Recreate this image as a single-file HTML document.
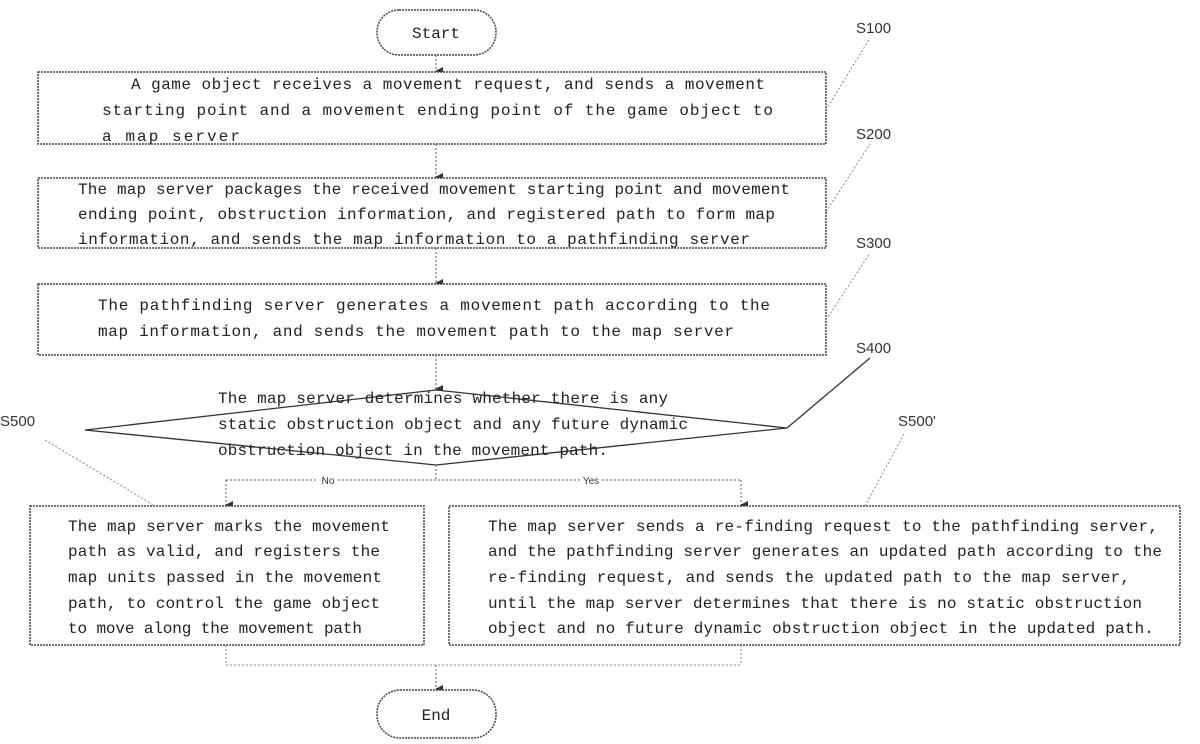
<!DOCTYPE html>
<html><head><meta charset="utf-8"><style>
html,body{margin:0;padding:0;background:#fff;}
svg{display:block;}
text{font-family:"Liberation Mono","DejaVu Sans Mono",monospace;font-size:16px;fill:#222;}
.l{font-family:"Liberation Sans",sans-serif;font-size:15px;fill:#333;}
.b{fill:#fff;stroke:#444;stroke-width:1.5;stroke-dasharray:2 1;}
.c{fill:none;stroke:#777;stroke-width:1.2;stroke-dasharray:2 2;}
.ld{fill:none;stroke:#888;stroke-width:1;stroke-dasharray:2 2;}
</style></head><body>
<svg width="1200" height="744" viewBox="0 0 1200 744" xmlns="http://www.w3.org/2000/svg">
<defs><marker id="a" markerWidth="8" markerHeight="8" refX="4" refY="7" orient="auto" markerUnits="userSpaceOnUse"><path d="M0,0 L8,0 L4,8 z" fill="#333"/></marker></defs>
<rect x="377" y="10" width="119" height="45" rx="22" class="b"/>
<text x="436" y="38" text-anchor="middle">Start</text>
<line x1="436" y1="55" x2="436" y2="71" class="c" marker-end="url(#a)"/>
<rect x="38" y="72" width="788" height="72" class="b"/>
<text x="131" y="89" textLength="634">A game object receives a movement request, and sends a movement</text>
<text x="102" y="115" textLength="671">starting point and a movement ending point of the game object to</text>
<text x="102" y="141" textLength="138">a map server</text>
<line x1="436" y1="144" x2="436" y2="177" class="c" marker-end="url(#a)"/>
<rect x="38" y="178" width="788" height="70" class="b"/>
<text x="78" y="194" textLength="712">The map server packages the received movement starting point and movement</text>
<text x="78" y="219" textLength="697">ending point, obstruction information, and registered path to form map</text>
<text x="78" y="244" textLength="672">information, and sends the map information to a pathfinding server</text>
<line x1="436" y1="248" x2="436" y2="283" class="c" marker-end="url(#a)"/>
<rect x="38" y="284" width="788" height="71" class="b"/>
<text x="98" y="310" textLength="672">The pathfinding server generates a movement path according to the</text>
<text x="98" y="336" textLength="636">map information, and sends the movement path to the map server</text>
<line x1="436" y1="355" x2="436" y2="389" class="c" marker-end="url(#a)"/>
<polygon points="436,390 787,428 436,465 85,430" fill="#fff" stroke="#333" stroke-width="1.3"/>
<text x="218" y="403" textLength="450">The map server determines whether there is any</text>
<text x="218" y="429" textLength="470">static obstruction object and any future dynamic</text>
<text x="218" y="455" textLength="390">obstruction object in the movement path.</text>
<line x1="436" y1="465" x2="436" y2="480" class="c"/>
<line x1="226" y1="480" x2="741" y2="480" class="c"/>
<line x1="226" y1="480" x2="226" y2="505" class="c" marker-end="url(#a)"/>
<line x1="741" y1="480" x2="741" y2="505" class="c" marker-end="url(#a)"/>
<rect x="318" y="474" width="20" height="12" fill="#fff"/>
<text class="l" x="328" y="484" text-anchor="middle" style="font-size:10px">No</text>
<rect x="580" y="474" width="22" height="12" fill="#fff"/>
<text class="l" x="591" y="484" text-anchor="middle" style="font-size:10px">Yes</text>
<rect x="30" y="506" width="394" height="139" class="b"/>
<text x="68" y="531" textLength="322">The map server marks the movement</text>
<text x="68" y="556" textLength="312">path as valid, and registers the</text>
<text x="68" y="582" textLength="314">map units passed in the movement</text>
<text x="68" y="608" textLength="312">path, to control the game object</text>
<text x="68" y="633" textLength="294">to move along the movement path</text>
<rect x="449" y="506" width="731" height="139" class="b"/>
<text x="488" y="531" textLength="670">The map server sends a re-finding request to the pathfinding server,</text>
<text x="488" y="556" textLength="674">and the pathfinding server generates an updated path according to the</text>
<text x="488" y="582" textLength="642">re-finding request, and sends the updated path to the map server,</text>
<text x="488" y="608" textLength="654">until the map server determines that there is no static obstruction</text>
<text x="488" y="633" textLength="666">object and no future dynamic obstruction object in the updated path.</text>
<line x1="226" y1="645" x2="226" y2="665" class="ld"/>
<line x1="741" y1="645" x2="741" y2="665" class="ld"/>
<line x1="226" y1="665" x2="741" y2="665" class="ld"/>
<line x1="436" y1="665" x2="436" y2="689" class="c" marker-end="url(#a)"/>
<rect x="377" y="690" width="119" height="48" rx="23" class="b"/>
<text x="436" y="720" text-anchor="middle">End</text>
<text class="l" x="856" y="33">S100</text>
<text class="l" x="856" y="139">S200</text>
<text class="l" x="856" y="248">S300</text>
<text class="l" x="856" y="353">S400</text>
<text class="l" x="0" y="426">S500</text>
<text class="l" x="898" y="426">S500'</text>
<line x1="826" y1="110" x2="870" y2="38" class="ld"/>
<line x1="826" y1="212" x2="870" y2="144" class="ld"/>
<line x1="826" y1="320" x2="870" y2="253" class="ld"/>
<line x1="787" y1="428" x2="870" y2="358" stroke="#333" stroke-width="1.3"/>
<line x1="45" y1="440" x2="155" y2="506" class="ld"/>
<line x1="865" y1="506" x2="905" y2="432" class="ld"/>
</svg>
</body></html>
